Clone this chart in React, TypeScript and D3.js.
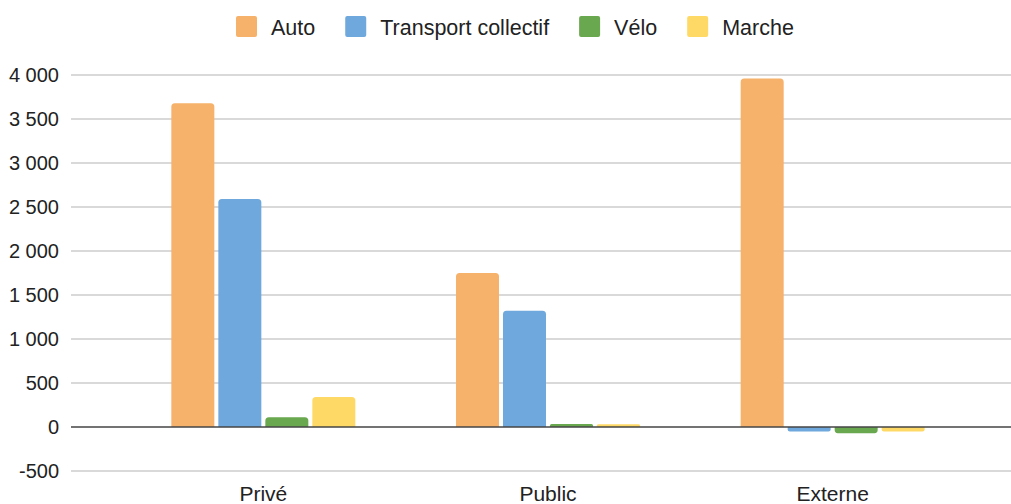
import { useRef, useEffect } from "react";
import * as d3 from "d3";

const categories = ["Privé", "Public", "Externe"];
const seriesNames = ["Auto", "Transport collectif", "Vélo", "Marche"];
const seriesColors = ["#f6b26b", "#6fa8dc", "#6aa84f", "#ffd966"];
const autoValues = [3680, 1750, 3960];
const transportValues = [2590, 1320, -50];
const veloValues = [110, 35, -70];
const marcheValues = [340, 32, -50];
const yTicks = [-500, 0, 500, 1000, 1500, 2000, 2500, 3000, 3500, 4000];

const WIDTH = 1011;
const HEIGHT = 504;
const FONT = "'Liberation Sans', Arial, sans-serif";

function barPath(x: number, y0: number, y1: number, w: number, r: number) {
  // rounded on the end away from zero
  const h = Math.abs(y1 - y0);
  const rr = Math.min(r, h / 2, w / 2);
  if (y1 < y0) {
    return `M${x},${y0} V${y1 + rr} Q${x},${y1} ${x + rr},${y1} H${x + w - rr} Q${x + w},${y1} ${x + w},${y1 + rr} V${y0} Z`;
  }
  return `M${x},${y0} V${y1 - rr} Q${x},${y1} ${x + rr},${y1} H${x + w - rr} Q${x + w},${y1} ${x + w},${y1 - rr} V${y0} Z`;
}

export default function App() {
  const svgRef = useRef<SVGSVGElement>(null);

  useEffect(() => {
    if (!svgRef.current) return;
    const svg = d3.select(svgRef.current);
    svg.selectAll("*").remove();

    const series = [autoValues, transportValues, veloValues, marcheValues];

    const locale = d3.formatLocale({
      decimal: ",",
      thousands: "\u00a0",
      grouping: [3],
      currency: ["", " €"],
      minus: "-",
    });
    const fmt = locale.format(",d");

    const y = d3.scaleLinear().domain([-500, 4000]).range([471, 75]);
    const x0 = d3.scaleBand().domain(categories).range([121, 975]);
    const x1 = d3
      .scaleBand()
      .domain(seriesNames)
      .range([-92, 92])
      .paddingInner(0.085);

    // Gridlines
    svg
      .append("g")
      .selectAll("line")
      .data(yTicks.filter((t) => t !== 0))
      .join("line")
      .attr("x1", 71)
      .attr("x2", WIDTH)
      .attr("y1", (d) => y(d))
      .attr("y2", (d) => y(d))
      .attr("stroke", "#cccccc")
      .attr("stroke-width", 1.5);

    // Y labels
    svg
      .append("g")
      .selectAll("text")
      .data(yTicks)
      .join("text")
      .attr("x", 59)
      .attr("y", (d) => y(d))
      .attr("dy", "0.35em")
      .attr("text-anchor", "end")
      .attr("font-family", FONT)
      .attr("font-size", 20)
      .attr("fill", "#222")
      .text((d) => fmt(d));

    // Bars
    const groups = svg
      .append("g")
      .selectAll("g")
      .data(categories)
      .join("g")
      .attr("transform", (c) => `translate(${x0(c)! + x0.bandwidth() / 2},0)`);

    groups
      .selectAll("path")
      .data((c, ci) =>
        seriesNames.map((s, si) => ({ s, si, v: series[si][ci] })),
      )
      .join("path")
      .attr("d", (d) =>
        barPath(x1(d.s)!, y(0), y(d.v), x1.bandwidth(), 3.5),
      )
      .attr("fill", (d) => seriesColors[d.si]);

    // Zero line
    svg
      .append("line")
      .attr("x1", 71)
      .attr("x2", WIDTH)
      .attr("y1", y(0))
      .attr("y2", y(0))
      .attr("stroke", "#444")
      .attr("stroke-width", 1.5);

    // X labels
    svg
      .append("g")
      .selectAll("text")
      .data(categories)
      .join("text")
      .attr("x", (c) => x0(c)! + x0.bandwidth() / 2)
      .attr("y", 501)
      .attr("text-anchor", "middle")
      .attr("font-family", FONT)
      .attr("font-size", 21)
      .attr("fill", "#222")
      .text((c) => c);

    // Legend
    const legend = svg.append("g");
    let lx = 236;
    seriesNames.forEach((name, i) => {
      legend
        .append("rect")
        .attr("x", lx)
        .attr("y", 16)
        .attr("width", 21)
        .attr("height", 21)
        .attr("rx", 2)
        .attr("fill", seriesColors[i]);
      const t = legend
        .append("text")
        .attr("x", lx + 35)
        .attr("y", 35)
        .attr("font-family", FONT)
        .attr("font-size", 21.5)
        .attr("fill", "#222")
        .text(name);
      const w = (t.node() as SVGTextElement).getComputedTextLength();
      lx += 35 + w + 30;
    });
  }, []);

  return (
    <svg
      ref={svgRef}
      width={WIDTH}
      height={HEIGHT}
      style={{ position: "absolute", left: 0, top: 0, background: "#fff" }}
    />
  );
}
